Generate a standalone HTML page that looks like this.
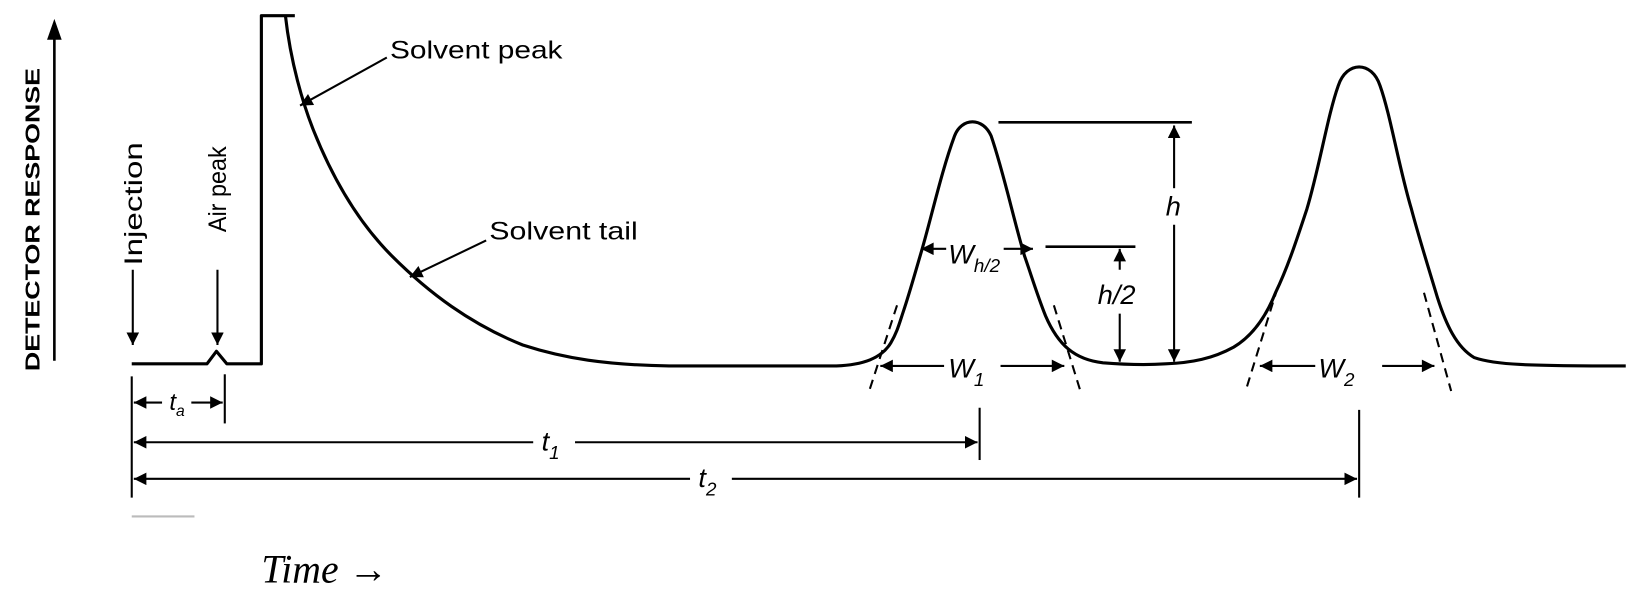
<!DOCTYPE html>
<html><head><style>
html,body{margin:0;padding:0;background:#fff;overflow:hidden;}
svg{display:block;}
text{font-family:"Liberation Sans",Arial,sans-serif;fill:#000;}
</style></head><body>
<svg width="1631" height="595" viewBox="0 0 1631 595" xmlns="http://www.w3.org/2000/svg">
<defs>
<marker id="b" viewBox="0 0 10 10" refX="10" refY="5" markerWidth="14" markerHeight="12" orient="auto-start-reverse" markerUnits="userSpaceOnUse">
<path d="M0,0 L10,5 L0,10 Z" fill="#000"/></marker>
</defs>
<g transform="scale(1.0455)">
<g fill="none" stroke="#000" stroke-width="3" stroke-linejoin="round">
<line x1="52" y1="345" x2="52" y2="32" stroke-width="2.5"/>
<path d="M45,38 L52,18 L59,38 Z" fill="#000" stroke="none"/>
<path d="M126,348 L198,348 L207,336 L217,348 L250,348 L250,15 L282,15"/>
<path d="M273,15 C278,60 290,100 300,125 C320,175 345,215 375,245 C410,280 450,310 500,330 C540,343 580,349 640,350 L800,350
C825,349 843,343 852,328 C858,318 860,310 864,298 C870,280 875,262 880,245 C890,212 900,165 913,130 C920,112 940,112 948,130
C960,165 970,212 980,245 C986,262 992,282 1000,302 C1012,330 1028,344 1055,347 C1080,349 1100,349 1115,348
C1140,347 1160,343 1180,332 C1200,320 1212,300 1220,280 C1232,255 1240,230 1250,200 C1262,160 1270,110 1280,82 C1288,58 1312,58 1320,82
C1330,110 1338,160 1350,200 C1358,230 1366,255 1375,285 C1383,310 1393,332 1410,342 C1430,349 1460,350 1555,350"/>
</g>
<g stroke="#000" stroke-width="2" fill="none">
<line x1="858" y1="292" x2="832" y2="372" stroke-dasharray="9,6"/>
<line x1="1008" y1="292" x2="1034" y2="376" stroke-dasharray="9,6"/>
<line x1="1222" y1="275" x2="1192" y2="372" stroke-dasharray="9,6"/>
<line x1="1362" y1="280" x2="1388" y2="374" stroke-dasharray="9,6"/>
<line x1="955" y1="117" x2="1140" y2="117" stroke-width="2.5"/>
<line x1="1000" y1="236" x2="1086" y2="236" stroke-width="2.5"/>
<line x1="1123" y1="120" x2="1123" y2="180" marker-start="url(#b)"/>
<line x1="1123" y1="215" x2="1123" y2="346" marker-end="url(#b)"/>
<line x1="1071" y1="238" x2="1071" y2="258" marker-start="url(#b)"/>
<line x1="1071" y1="300" x2="1071" y2="346" marker-end="url(#b)"/>
<line x1="881" y1="238" x2="905" y2="238" marker-start="url(#b)"/>
<line x1="960" y1="238" x2="988" y2="238" marker-end="url(#b)"/>
<line x1="842" y1="350" x2="903" y2="350" marker-start="url(#b)"/>
<line x1="957" y1="350" x2="1018" y2="350" marker-end="url(#b)"/>
<line x1="1205" y1="350" x2="1258" y2="350" marker-start="url(#b)"/>
<line x1="1322" y1="350" x2="1372" y2="350" marker-end="url(#b)"/>
<line x1="126" y1="360" x2="126" y2="476"/>
<line x1="215" y1="358" x2="215" y2="405"/>
<line x1="937" y1="390" x2="937" y2="440"/>
<line x1="1300" y1="392" x2="1300" y2="476"/>
<line x1="128" y1="385" x2="155" y2="385" marker-start="url(#b)"/>
<line x1="183" y1="385" x2="213" y2="385" marker-end="url(#b)"/>
<line x1="128" y1="423" x2="510" y2="423" marker-start="url(#b)"/>
<line x1="550" y1="423" x2="935" y2="423" marker-end="url(#b)"/>
<line x1="128" y1="458" x2="660" y2="458" marker-start="url(#b)"/>
<line x1="700" y1="458" x2="1298" y2="458" marker-end="url(#b)"/>
<line x1="370" y1="55" x2="287" y2="101" marker-end="url(#b)"/>
<line x1="465" y1="230" x2="392" y2="265" marker-end="url(#b)"/>
<line x1="127" y1="258" x2="127" y2="330" marker-end="url(#b)"/>
<line x1="208" y1="258" x2="208" y2="330" marker-end="url(#b)"/>
<line x1="126" y1="494" x2="186" y2="494" stroke="#bbb" stroke-width="2"/>
</g>
<text font-size="19" font-weight="bold" transform="translate(38,355) rotate(-90)" textLength="290" lengthAdjust="spacingAndGlyphs">DETECTOR  RESPONSE</text>
<text font-size="24" transform="translate(136,254) rotate(-90)" textLength="118" lengthAdjust="spacingAndGlyphs">Injection</text>
<text font-size="24" transform="translate(216,222) rotate(-90)" textLength="82" lengthAdjust="spacingAndGlyphs">Air peak</text>
<text x="373" y="56" font-size="24" textLength="165" lengthAdjust="spacingAndGlyphs">Solvent peak</text>
<text x="468" y="229" font-size="24" textLength="142" lengthAdjust="spacingAndGlyphs">Solvent tail</text>
<g font-style="italic" font-size="26">
<text x="1115" y="206">h</text>
<text x="1050" y="291">h/2</text>
<text x="907" y="252">W<tspan font-size="18" dy="8">h/2</tspan></text>
<text x="907" y="361">W<tspan font-size="18" dy="8">1</tspan></text>
<text x="1261" y="361">W<tspan font-size="18" dy="8">2</tspan></text>
<text x="162" y="392" font-size="23">t<tspan font-size="15" dy="6">a</tspan></text>
<text x="518" y="431">t<tspan font-size="18" dy="8">1</tspan></text>
<text x="668" y="466">t<tspan font-size="18" dy="8">2</tspan></text>
</g>
<text x="250" y="557" font-style="italic" font-size="38" style="font-family:'Liberation Serif',serif">Time →</text>
</g>
</svg>
</body></html>
